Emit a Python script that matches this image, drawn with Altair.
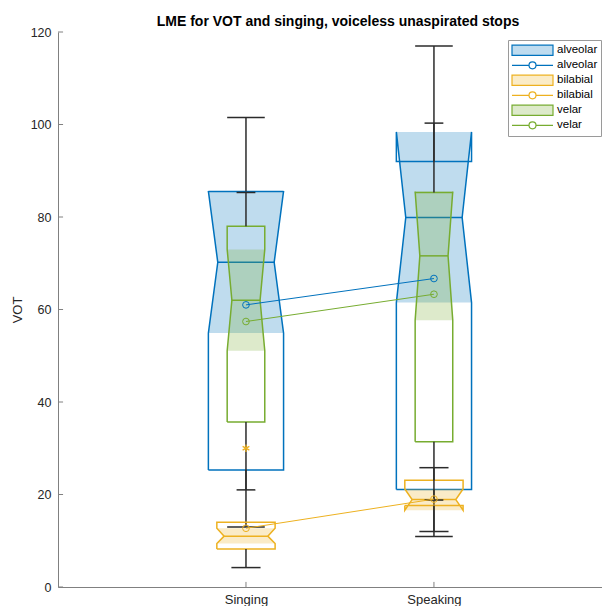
import altair as alt
import pandas as pd

FONT = "Liberation Sans"

conditions = ["Singing", "Speaking"]
places = ["alveolar", "bilabial", "velar"]
colors = {"alveolar": "#0072BD", "bilabial": "#EDB120", "velar": "#77AC30"}
light = {"alveolar": "#BFDCEF", "bilabial": "#FBECC7", "velar": "#DDEACB"}
box_width = {"alveolar": 0.4, "bilabial": 0.31, "velar": 0.2}

# statistics per place: [Singing, Speaking]
q1 = {"alveolar": [25.3, 21.1], "bilabial": [8.2, 17.6], "velar": [35.7, 31.4]}
median = {"alveolar": [70.2, 79.9], "bilabial": [11.0, 18.9], "velar": [62.0, 71.6]}
q3 = {"alveolar": [85.5, 92.0], "bilabial": [14.0, 23.1], "velar": [78.0, 85.3]}
notch_lo = {"alveolar": [54.9, 61.5], "bilabial": [9.4, 16.6], "velar": [51.1, 57.7]}
notch_hi = {"alveolar": [85.6, 98.4], "bilabial": [12.7, 21.2], "velar": [73.0, 85.5]}
whisker_lo = {"alveolar": [13.0, 10.9], "bilabial": [4.2, 12.0], "velar": [21.0, 18.8]}
whisker_hi = {"alveolar": [101.5, 117.0], "bilabial": [14.0, 25.8], "velar": [85.3, 100.3]}
means = {"alveolar": [61.0, 66.7], "bilabial": [12.7, 19.0], "velar": [57.4, 63.3]}
outlier_place = ["bilabial"]
outlier_cond = ["Singing"]
outlier_val = [30.0]

y_ticks = [0, 20, 40, 60, 80, 100, 120]

xs = alt.Scale(domain=[0, 2.894], nice=False, zero=False)
ys = alt.Scale(domain=[0, 120], nice=False, zero=False)

label_expr = " : ".join(
    [f"datum.value == {i + 1} ? '{c}'" for i, c in enumerate(conditions[:-1])] + [f"'{conditions[-1]}'"]
)
xaxis = alt.Axis(values=[i + 1 for i in range(len(conditions))], labelExpr=label_expr, ticks=False,
                 grid=False, domainColor="#808080", domainWidth=1, labelFont=FONT, labelFontSize=13,
                 labelColor="#262626", labelPadding=6, title=None, labelOverlap=False)
yaxis = alt.Axis(values=y_ticks, ticks=False, grid=False, domainColor="#808080", domainWidth=1,
                 labelFont=FONT, labelFontSize=12.5, labelColor="#262626", labelPadding=7,
                 title="VOT", titleFont=FONT, titleFontSize=13, titleFontWeight="normal",
                 titleColor="#262626", titlePadding=6, labelOverlap=False, labelFlush=False)


def X(field="x"):
    return alt.X(f"{field}:Q", scale=xs, axis=xaxis)


def Y(field="y"):
    return alt.Y(f"{field}:Q", scale=ys, axis=yaxis)


layers = []
for p in places:
    col = colors[p]
    h = box_width[p] / 2
    d = 0.25 * h
    fill_rows, out_rows, med_rows, wh_rows, cap_rows = [], [], [], [], []
    for i, c in enumerate(conditions):
        cx = i + 1
        bid = f"{p}-{c}"
        # notch fill (hourglass)
        for yy, ind in [(notch_lo[p][i], 0), (median[p][i], d), (notch_hi[p][i], 0)]:
            fill_rows.append({"box": bid, "y": yy, "x": cx - h + ind, "x2": cx + h - ind})
        # outline path
        pts = [(cx - h, q1[p][i]), (cx - h, notch_lo[p][i]), (cx - h + d, median[p][i]),
               (cx - h, notch_hi[p][i]), (cx - h, q3[p][i]), (cx + h, q3[p][i]),
               (cx + h, notch_hi[p][i]), (cx + h - d, median[p][i]), (cx + h, notch_lo[p][i]),
               (cx + h, q1[p][i]), (cx - h, q1[p][i])]
        for k, (xx, yy) in enumerate(pts):
            out_rows.append({"box": bid, "o": k, "x": xx, "y": yy})
        med_rows.append({"x": cx - h + d, "x2": cx + h - d, "y": median[p][i]})
        # whiskers
        if whisker_hi[p][i] > q3[p][i]:
            wh_rows.append({"x": cx, "y": q3[p][i], "y2": whisker_hi[p][i]})
            cap_rows.append({"x": cx - h / 2, "x2": cx + h / 2, "y": whisker_hi[p][i]})
        if whisker_lo[p][i] < q1[p][i]:
            wh_rows.append({"x": cx, "y": q1[p][i], "y2": whisker_lo[p][i]})
            cap_rows.append({"x": cx - h / 2, "x2": cx + h / 2, "y": whisker_lo[p][i]})

    layers.append(alt.Chart(pd.DataFrame(fill_rows)).mark_area(
        orient="horizontal", color=col, opacity=0.25).encode(
        y=Y(), x=X(), x2="x2:Q", detail="box:N"))
    layers.append(alt.Chart(pd.DataFrame(out_rows)).mark_line(
        color=col, strokeWidth=1.5).encode(
        x=X(), y=Y(), order="o:Q", detail="box:N"))
    layers.append(alt.Chart(pd.DataFrame(med_rows)).mark_rule(
        color=col, strokeWidth=1.5).encode(x=X(), x2="x2:Q", y=Y()))
    layers.append(alt.Chart(pd.DataFrame(wh_rows)).mark_rule(
        color="#2b2b2b", strokeWidth=1.5).encode(x=X(), y=Y(), y2="y2:Q"))
    layers.append(alt.Chart(pd.DataFrame(cap_rows)).mark_rule(
        color="#2b2b2b", strokeWidth=1.5).encode(x=X(), x2="x2:Q", y=Y()))

# outliers
out_df = pd.DataFrame({"place": outlier_place,
                       "x": [conditions.index(c) + 1 for c in outlier_cond],
                       "y": outlier_val})
asterisk = "M0,-1L0,1M-0.87,-0.5L0.87,0.5M-0.87,0.5L0.87,-0.5"
for p in places:
    sub = out_df[out_df.place == p]
    if len(sub):
        layers.append(alt.Chart(sub).mark_point(
            shape=asterisk, size=60, color=colors[p], strokeWidth=1.3, opacity=1, filled=False).encode(
            x=X(), y=Y()))

# mean lines and points
for p in places:
    mdf = pd.DataFrame({"x": [i + 1 for i in range(len(conditions))], "y": means[p]})
    layers.append(alt.Chart(mdf).mark_line(color=colors[p], strokeWidth=1).encode(x=X(), y=Y()))
    layers.append(alt.Chart(mdf).mark_point(
        shape="circle", size=45, color=colors[p], strokeWidth=1, opacity=1, filled=False).encode(
        x=X(), y=Y()))

# axis ticks pointing inward
ytick_df = pd.DataFrame({"x": [0] * len(y_ticks), "x2": [0.027] * len(y_ticks), "y": y_ticks})
layers.append(alt.Chart(ytick_df).mark_rule(color="#808080", strokeWidth=1).encode(
    x=X(), x2="x2:Q", y=Y()))
xtick_df = pd.DataFrame({"x": [i + 1 for i in range(len(conditions))], "y": [0, 0], "y2": [1.1, 1.1]})
layers.append(alt.Chart(xtick_df).mark_rule(color="#808080", strokeWidth=1).encode(
    x=X(), y=Y(), y2="y2:Q"))

# legend
leg_domain = []
leg_fill, leg_stroke, leg_shape = [], [], []
patch = "M-1,-0.25H1V0.25H-1Z"
lineglyph = ("M-1,0H-0.17M0.17,0A0.17,0.17 0 1,1 -0.17,0A0.17,0.17 0 1,1 0.17,0M0.17,0H1")
for p in places:
    leg_domain += [f"{p}|box", f"{p}|mean"]
    leg_fill += [light[p], "transparent"]
    leg_stroke += [colors[p], colors[p]]
    leg_shape += [patch, lineglyph]

legend = alt.Legend(title=None, orient="none", legendX=450, legendY=8, symbolSize=1681,
                    labelExpr="split(datum.label, '|')[0]", labelFont=FONT, labelFontSize=11.5,
                    labelColor="#000000", padding=3, strokeColor="#9a9a9a", fillColor="white",
                    clipHeight=14.6, rowPadding=0, labelOffset=3, symbolStrokeWidth=1.2,
                    symbolOffset=0)
leg_df = pd.DataFrame({"leg": leg_domain})
layers.append(alt.Chart(leg_df).mark_point(opacity=1, filled=False, strokeWidth=1.2).encode(
    fill=alt.Fill("leg:N", scale=alt.Scale(domain=leg_domain, range=leg_fill), legend=legend),
    stroke=alt.Stroke("leg:N", scale=alt.Scale(domain=leg_domain, range=leg_stroke), legend=legend),
    shape=alt.Shape("leg:N", scale=alt.Scale(domain=leg_domain, range=leg_shape), legend=legend),
).transform_filter("false"))

chart = alt.layer(*layers).properties(
    width=544, height=555,
    padding={"left": 50, "top": 24, "right": 0, "bottom": 19},
    autosize="none",
    title=alt.Title("LME for VOT and singing, voiceless unaspirated stops", font=FONT, fontSize=14,
                    fontWeight="bold", color="#000000", offset=4, dx=8, dy=7, anchor="middle",
                    frame="group"),
).configure_view(stroke=None)

chart.save("out.html", embed_options={"renderer": "svg", "actions": False})
